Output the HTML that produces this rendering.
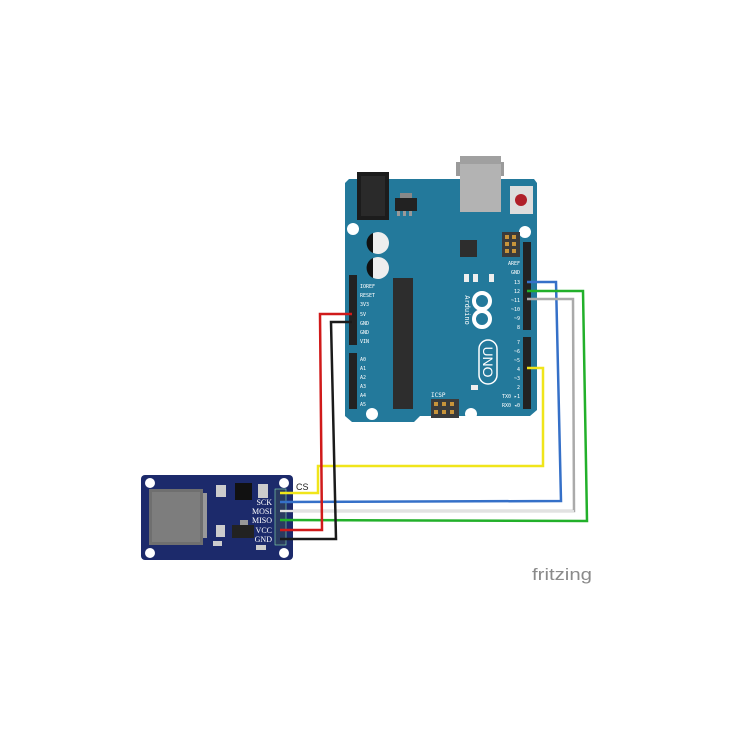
<!DOCTYPE html>
<html><head><meta charset="utf-8"><style>
html,body{margin:0;padding:0;background:#fff;width:744px;height:744px;overflow:hidden}
svg{display:block}
</style></head><body>
<svg width="744" height="744" viewBox="0 0 744 744" xmlns="http://www.w3.org/2000/svg" style="font-family:'DejaVu Sans Mono','Liberation Mono',monospace">
<path d="M349 179 H534 L537 183 V410 L530 416 H420 L414 422 H352 L345 416 V183 Z" fill="#23799b"/>
<rect x="456" y="162" width="48" height="14" fill="#9a9a9a"/>
<rect x="460" y="156" width="41" height="56" fill="#b3b3b3"/>
<rect x="460" y="156" width="41" height="8" fill="#a0a0a0"/>
<rect x="357" y="172" width="32" height="48" fill="#1c1c1c"/>
<rect x="361" y="176" width="24" height="40" fill="#2a2a2a"/>
<rect x="400" y="193" width="12" height="5" fill="#888"/>
<rect x="395" y="198" width="22" height="13" fill="#222"/>
<rect x="397" y="211" width="3" height="5" fill="#999"/><rect x="403" y="211" width="3" height="5" fill="#999"/><rect x="409" y="211" width="3" height="5" fill="#999"/>
<rect x="510" y="186" width="23" height="28" fill="#ddd"/>
<circle cx="521" cy="200" r="6" fill="#b0202a"/>
<circle cx="353" cy="229" r="6" fill="#fff"/>
<circle cx="525" cy="232" r="6" fill="#fff"/>
<circle cx="372" cy="414" r="6" fill="#fff"/>
<circle cx="471" cy="414" r="6" fill="#fff"/>
<circle cx="378" cy="243" r="11" fill="#eee"/><path d="M373 233 A11 11 0 0 0 373 253 Z" fill="#111"/>
<circle cx="378" cy="268" r="11" fill="#eee"/><path d="M373 258 A11 11 0 0 0 373 278 Z" fill="#111"/>
<rect x="393" y="278" width="20" height="131" fill="#2d2d2d"/>
<rect x="460" y="240" width="17" height="17" fill="#2d2d2d"/>
<rect x="502" y="232" width="18" height="25" fill="#3b3b3b"/>
<g fill="#c8943a"><rect x="505" y="235" width="4" height="4"/><rect x="512" y="235" width="4" height="4"/><rect x="505" y="242" width="4" height="4"/><rect x="512" y="242" width="4" height="4"/><rect x="505" y="249" width="4" height="4"/><rect x="512" y="249" width="4" height="4"/></g>
<rect x="431" y="399" width="28" height="19" fill="#3b3b3b"/>
<g fill="#c8943a"><rect x="434" y="402" width="4" height="4"/><rect x="442" y="402" width="4" height="4"/><rect x="450" y="402" width="4" height="4"/><rect x="434" y="410" width="4" height="4"/><rect x="442" y="410" width="4" height="4"/><rect x="450" y="410" width="4" height="4"/></g>
<text x="431" y="397" font-size="6" fill="#fff">ICSP</text>
<rect x="464" y="274" width="5" height="8" fill="#eee"/><rect x="473" y="274" width="5" height="8" fill="#eee"/><rect x="489" y="274" width="5" height="8" fill="#eee"/>
<rect x="471" y="385" width="7" height="5" fill="#eee"/>
<rect x="349" y="275" width="8" height="70" fill="#222"/>
<rect x="349" y="353" width="8" height="56" fill="#222"/>
<rect x="523" y="242" width="8" height="88" fill="#222"/>
<rect x="523" y="337" width="8" height="72" fill="#222"/>
<g font-size="5" fill="#fff">
<text x="360" y="288">IOREF</text><text x="360" y="297">RESET</text><text x="360" y="306">3V3</text><text x="360" y="316">5V</text><text x="360" y="325">GND</text><text x="360" y="334">GND</text><text x="360" y="343">VIN</text>
<text x="360" y="361">A0</text><text x="360" y="370">A1</text><text x="360" y="379">A2</text><text x="360" y="388">A3</text><text x="360" y="397">A4</text><text x="360" y="406">A5</text>
<g text-anchor="end"><text x="520" y="265">AREF</text><text x="520" y="274">GND</text><text x="520" y="284">13</text><text x="520" y="293">12</text><text x="520" y="302">~11</text><text x="520" y="311">~10</text><text x="520" y="320">~9</text><text x="520" y="329">8</text>
<text x="520" y="344">7</text><text x="520" y="353">~6</text><text x="520" y="362">~5</text><text x="520" y="371">4</text><text x="520" y="380">~3</text><text x="520" y="389">2</text><text x="520" y="398">TX0 ▸1</text><text x="520" y="407">RX0 ◂0</text></g>
</g>
<g transform="translate(482,310) rotate(90)">
<circle cx="-9" cy="0" r="8" fill="none" stroke="#fff" stroke-width="4"/>
<circle cx="9" cy="0" r="8" fill="none" stroke="#fff" stroke-width="4"/>
<text x="0" y="17" font-size="7" fill="#fff" text-anchor="middle">Arduino</text>
</g>
<g transform="translate(489,362) rotate(90)"><rect x="-22" y="-8" width="44" height="18" rx="9" fill="none" stroke="#fff" stroke-width="1.5"/><text x="0" y="6" font-size="14" fill="#fff" text-anchor="middle" style="font-family:'Liberation Sans',sans-serif">UNO</text></g>

<rect x="141" y="475" width="152" height="85" rx="4" fill="#1c2a6b"/>
<circle cx="150" cy="483" r="5" fill="#fff"/><circle cx="284" cy="483" r="5" fill="#fff"/>
<circle cx="150" cy="553" r="5" fill="#fff"/><circle cx="284" cy="553" r="5" fill="#fff"/>
<rect x="149" y="489" width="54" height="56" fill="#6f6f6f"/>
<rect x="152" y="492" width="48" height="50" fill="#7d7d7d"/>
<rect x="203" y="493" width="4" height="45" fill="#999"/>
<rect x="235" y="483" width="17" height="17" fill="#111"/>
<rect x="216" y="485" width="10" height="12" fill="#ccc"/>
<rect x="258" y="484" width="10" height="14" fill="#ccc"/>
<rect x="232" y="525" width="22" height="13" fill="#222"/>
<rect x="240" y="520" width="8" height="5" fill="#999"/>
<rect x="213" y="541" width="9" height="5" fill="#ccc"/>
<rect x="216" y="525" width="9" height="12" fill="#ccc"/>
<rect x="256" y="545" width="10" height="5" fill="#ccc"/>
<rect x="275" y="489" width="11" height="56" fill="#2a3a60" stroke="#9fb" stroke-width="0.5"/>
<g font-size="8" fill="#fff" text-anchor="end" style="font-family:'Liberation Serif',serif">
<text x="272" y="505">SCK</text><text x="272" y="514">MOSI</text><text x="272" y="523">MISO</text><text x="272" y="533">VCC</text><text x="272" y="542">GND</text></g>
<text x="296" y="490" font-size="9" fill="#222" style="font-family:'Liberation Sans',sans-serif">CS</text>

<g fill="none" stroke-width="2.5" stroke-linejoin="miter">
<polyline points="280,493 318,493 318,466 543,466 543,368 527,368" stroke="#f0e51a"/>
<polyline points="280,502 561,501 556,282 527,282" stroke="#3570c8"/>
<polyline points="280,511 574,511 573,299 527,299" stroke="#aaa"/>
<polyline points="280,511 574,511" stroke="#f4f4f4" stroke-width="1.5"/>
<polyline points="280,520 587,521 583,291 527,291" stroke="#22b02a"/>
<polyline points="280,530 322,530 320,314 352,314" stroke="#d01a1a"/>
<polyline points="280,539 336,539 331,322 352,322" stroke="#1a1a1a"/>
</g>
<text x="532" y="580" font-size="17" fill="#8a8a8a" textLength="60" lengthAdjust="spacingAndGlyphs" style="font-family:'Liberation Sans',sans-serif">fritzing</text>
</svg>
</body></html>
